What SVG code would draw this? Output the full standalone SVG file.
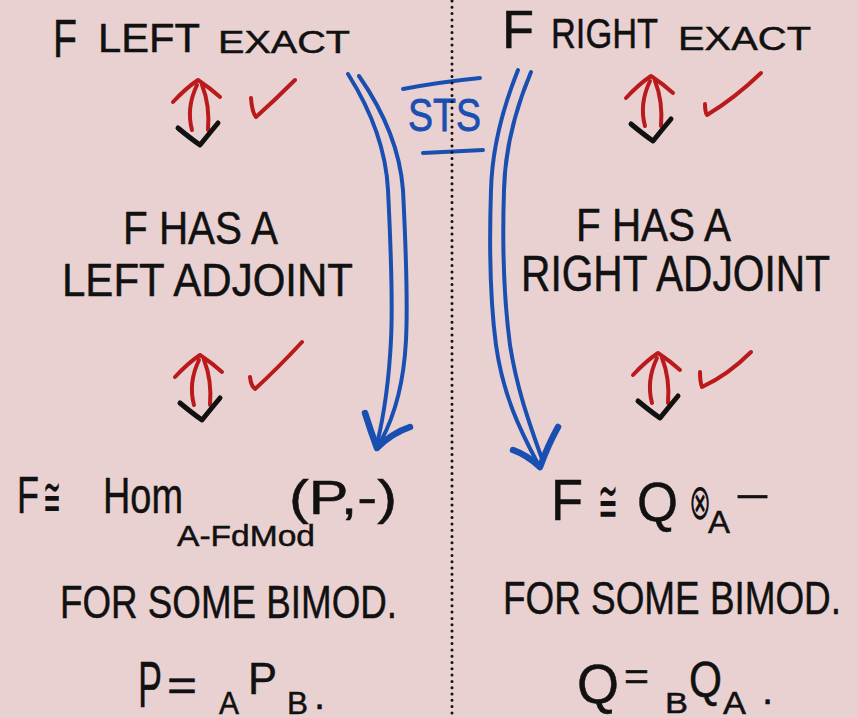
<svg xmlns="http://www.w3.org/2000/svg" width="858" height="718" viewBox="0 0 858 718">
<style>
  .t { font-family: "Liberation Sans", "DejaVu Sans", sans-serif; fill: #111; stroke: #111; stroke-width: 0.5; }
  .s { font-family: "DejaVu Sans", "Liberation Sans", sans-serif; fill: #111; }
  .blue-t { font-family: "Liberation Sans", sans-serif; fill: #1a4fb2; stroke: #1a4fb2; stroke-width: 0.8; }
  .red { fill: none; stroke: #bb1a1c; stroke-width: 4; stroke-linecap: round; stroke-linejoin: round; }
  .blk { fill: none; stroke: #111; stroke-width: 5; stroke-linecap: round; stroke-linejoin: round; }
  .blu { fill: none; stroke: #1a4fb2; stroke-width: 4; stroke-linecap: round; stroke-linejoin: round; }
  .bluh { fill: none; stroke: #1a4fb2; stroke-width: 6.5; stroke-linecap: round; stroke-linejoin: round; }
</style>
<defs>
  <g id="dblarrow">
    <path class="red" d="M-25,22 Q-12,8 0,0 Q12,8 22,17"/>
    <path class="red" d="M-1,5 Q-12,28 -6,50"/>
    <path class="red" d="M4,5 Q12,25 10,50"/>
    <path class="blk" d="M-20,48 Q-8,58 2,65 Q10,55 20,43"/>
  </g>
</defs>
<rect width="858" height="718" fill="#ead1d1"/>

<g id="left-exact">
  <text class="t" x="53" y="57" font-size="54" textLength="24" lengthAdjust="spacingAndGlyphs">F</text>
  <text class="t" x="98" y="52" font-size="40" textLength="102" lengthAdjust="spacingAndGlyphs">LEFT</text>
  <text class="t" x="218" y="53" font-size="31" textLength="132" lengthAdjust="spacingAndGlyphs">EXACT</text>
</g>
<g id="right-exact">
  <text class="t" x="502" y="48" font-size="54" textLength="32" lengthAdjust="spacingAndGlyphs">F</text>
  <text class="t" x="551" y="48" font-size="42" textLength="107" lengthAdjust="spacingAndGlyphs">RIGHT</text>
  <text class="t" x="678" y="50" font-size="34" textLength="133" lengthAdjust="spacingAndGlyphs">EXACT</text>
</g>
<g id="left-adjoint">
  <text class="t" x="123" y="244" font-size="46" textLength="155" lengthAdjust="spacingAndGlyphs">F HAS A</text>
  <text class="t" x="62" y="296" font-size="46" textLength="291" lengthAdjust="spacingAndGlyphs">LEFT ADJOINT</text>
</g>
<g id="right-adjoint">
  <text class="t" x="576" y="241" font-size="46" textLength="155" lengthAdjust="spacingAndGlyphs">F HAS A</text>
  <text class="t" x="521" y="291" font-size="50" textLength="309" lengthAdjust="spacingAndGlyphs">RIGHT ADJOINT</text>
</g>
<g id="left-hom">
  <text class="t" x="17" y="513" font-size="52" textLength="22" lengthAdjust="spacingAndGlyphs">F</text>
  <text class="s" x="43" y="516" font-size="56" textLength="18" lengthAdjust="spacingAndGlyphs">≅</text>
  <text class="t" x="103" y="513" font-size="50" textLength="80" lengthAdjust="spacingAndGlyphs">Hom</text>
  <text class="t" x="177" y="546" font-size="30" textLength="138" lengthAdjust="spacingAndGlyphs">A-FdMod</text>
  <text class="t" x="289" y="514" font-size="48" textLength="108" lengthAdjust="spacingAndGlyphs">(P,-)</text>
  <text class="t" x="60" y="618" font-size="46" textLength="337" lengthAdjust="spacingAndGlyphs">FOR SOME BIMOD.</text>
  <text class="t" x="138" y="707" font-size="64" textLength="24" lengthAdjust="spacingAndGlyphs">P</text>
  <text class="t" x="167" y="701" font-size="44" textLength="30" lengthAdjust="spacingAndGlyphs">=</text>
  <text class="t" x="219" y="714" font-size="31" textLength="20" lengthAdjust="spacingAndGlyphs">A</text>
  <text class="t" x="248" y="694" font-size="44" textLength="29" lengthAdjust="spacingAndGlyphs">P</text>
  <text class="t" x="287" y="714" font-size="31" textLength="21" lengthAdjust="spacingAndGlyphs">B</text>
  <text class="t" x="314" y="709" font-size="40">.</text>
</g>
<g id="right-tensor">
  <text class="t" x="551" y="520" font-size="58" textLength="32" lengthAdjust="spacingAndGlyphs">F</text>
  <text class="s" x="598" y="522" font-size="60" textLength="20" lengthAdjust="spacingAndGlyphs">≅</text>
  <text class="t" x="637" y="521" font-size="56" textLength="41" lengthAdjust="spacingAndGlyphs">Q</text>
  <text class="s" x="689" y="519" font-size="50" textLength="22" lengthAdjust="spacingAndGlyphs">⊗</text>
  <text class="t" x="708" y="533" font-size="31" textLength="22" lengthAdjust="spacingAndGlyphs">A</text>
  <text class="t" x="735" y="510" font-size="40" textLength="35" lengthAdjust="spacingAndGlyphs">−</text>
  <text class="t" x="503" y="614" font-size="46" textLength="338" lengthAdjust="spacingAndGlyphs">FOR SOME BIMOD.</text>
  <text class="t" x="577" y="703" font-size="56" textLength="42" lengthAdjust="spacingAndGlyphs">Q</text>
  <text class="t" x="624" y="690" font-size="38" textLength="25" lengthAdjust="spacingAndGlyphs">=</text>
  <text class="t" x="665" y="713" font-size="30" textLength="23" lengthAdjust="spacingAndGlyphs">B</text>
  <text class="t" x="689" y="697" font-size="50" textLength="33" lengthAdjust="spacingAndGlyphs">Q</text>
  <text class="t" x="723" y="714" font-size="31" textLength="23" lengthAdjust="spacingAndGlyphs">A</text>
  <text class="t" x="762" y="704" font-size="40">.</text>
</g>
<g id="sts">
  <text class="blue-t" x="408" y="131" font-size="46" textLength="73" lengthAdjust="spacingAndGlyphs">STS</text>
  <path class="blu" d="M403,89 Q440,82 480,78"/>
  <path class="blu" d="M423,153 L483,150"/>
</g>

<g id="connectors">
  <use href="#dblarrow" x="198" y="80"/>
  <use href="#dblarrow" x="200" y="355"/>
  <use href="#dblarrow" x="651" y="76"/>
  <use href="#dblarrow" x="658" y="353"/>
  <path class="red" d="M251,98 Q252,112 256,117 Q275,100 295,80"/>
  <path class="red" d="M250,377 Q251,386 255,389 Q278,368 302,342"/>
  <path class="red" d="M705,104 Q705,112 707,115 Q735,98 761,73"/>
  <path class="red" d="M700,372 Q700,382 702,387 Q728,375 751,352"/>
  <path class="blu" d="M348,74 C372,112 386,150 388,190 C391,250 393,300 391,340 C389,380 384,415 377,444"/>
  <path class="blu" d="M359,76 C384,112 400,150 403,190 C406,250 408,300 406,340 C404,380 395,415 381,441"/>
  <path class="bluh" d="M365,413 Q371,432 377,448 Q392,433 410,427"/>
  <path class="blu" d="M518,70 C502,110 492,150 491,190 C489,250 490,300 496,345 C503,395 520,430 537,462"/>
  <path class="blu" d="M531,72 C515,110 505,150 504,190 C502,250 504,300 510,345 C517,390 530,425 542,459"/>
  <path class="bluh" d="M513,450 Q527,455 540,467 Q548,445 558,427"/>
  <line x1="452" y1="1" x2="452" y2="718" stroke="#111" stroke-width="3" stroke-linecap="round" stroke-dasharray="0 6.3"/>
</g>
</svg>
